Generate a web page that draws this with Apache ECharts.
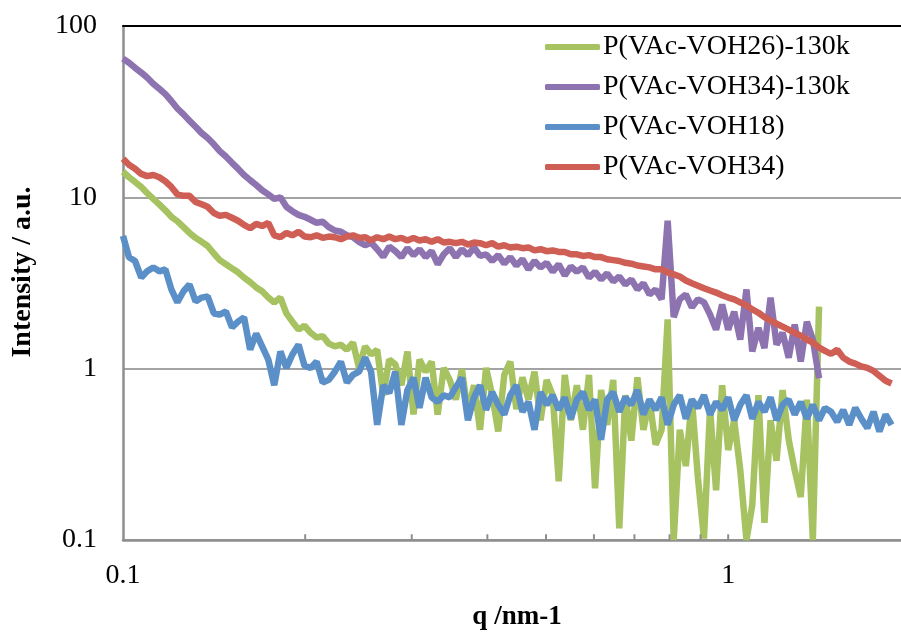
<!DOCTYPE html>
<html>
<head>
<meta charset="utf-8">
<script src="https://cdn.jsdelivr.net/npm/echarts@6/dist/echarts.min.js"></script>
<style>
  html, body { margin: 0; padding: 0; background: #fff; }
  #chart { width: 901px; height: 633px; }
</style>
</head>
<body>
<div id="chart"></div>
<script>
// q grid (nm-1), log spaced
var q = [0.1, 0.1023, 0.1047, 0.1072, 0.1096, 0.1122, 0.1148, 0.1175, 0.1202, 0.1230,
  0.1259, 0.1288, 0.1318, 0.1349, 0.1380, 0.1413, 0.1445, 0.1479, 0.1514, 0.1549,
  0.1585, 0.1622, 0.1660, 0.1698, 0.1738, 0.1778, 0.1820, 0.1862, 0.1905, 0.1950,
  0.1995, 0.2042, 0.2089, 0.2138, 0.2188, 0.2239, 0.2291, 0.2344, 0.2399, 0.2455,
  0.2512, 0.2570, 0.2630, 0.2692, 0.2754, 0.2818, 0.2884, 0.2951, 0.3020, 0.3090,
  0.3162, 0.3236, 0.3311, 0.3388, 0.3467, 0.3548, 0.3631, 0.3715, 0.3802, 0.3890,
  0.3981, 0.4074, 0.4169, 0.4266, 0.4365, 0.4467, 0.4571, 0.4677, 0.4786, 0.4898,
  0.5012, 0.5129, 0.5248, 0.5370, 0.5495, 0.5623, 0.5754, 0.5888, 0.6026, 0.6166,
  0.6310, 0.6457, 0.6607, 0.6761, 0.6918, 0.7079, 0.7244, 0.7413, 0.7586, 0.7762,
  0.7943, 0.8128, 0.8318, 0.8511, 0.8710, 0.8913, 0.9120, 0.9333, 0.9550, 0.9772,
  1.000, 1.023, 1.047, 1.072, 1.096, 1.122, 1.148, 1.175, 1.202, 1.230,
  1.259, 1.288, 1.318, 1.349, 1.380, 1.413, 1.445, 1.479, 1.514, 1.549,
  1.585, 1.622, 1.660, 1.698, 1.738, 1.778, 1.820, 1.862];

var voh26_130k = [14.1, 13.1, 12.3, 11.5, 10.6, 9.8, 9.1, 8.4, 7.7, 7.25,
  6.7, 6.2, 5.8, 5.5, 5.2, 4.7, 4.3, 4.07, 3.85, 3.65,
  3.4, 3.2, 2.98, 2.83, 2.6, 2.43, 2.6, 2.1, 1.88, 1.69,
  1.78, 1.62, 1.52, 1.55, 1.4, 1.35, 1.38, 1.29, 1.42, 1.01,
  1.35, 1.21, 1.29, 0.7, 1.13, 1.06, 0.8, 1.26, 0.54, 1.13,
  0.96, 1.1, 0.54, 1.01, 0.86, 0.66, 0.99, 0.55, 0.8, 0.44,
  1.01, 0.7, 0.43, 0.92, 1.1, 0.58, 0.89, 0.66, 0.96, 0.5,
  0.86, 0.7, 0.22, 0.92, 0.5, 0.8, 0.44, 0.92, 0.2, 0.75,
  0.47, 0.86, 0.117, 0.7, 0.38, 0.89, 0.44, 0.66, 0.36, 0.44,
  1.94, 0.1, 0.44, 0.27, 0.66, 0.23, 0.102, 0.58, 0.195, 0.8,
  0.335, 0.5, 0.256, 0.1, 0.16, 0.7, 0.126, 0.5, 0.29, 0.75,
  0.384, 0.256, 0.178, 0.66, 0.1, 2.3];

var voh34_130k = [64.5, 61, 57, 53.5, 50, 46, 43, 40, 36.5, 33,
  30.5, 28, 25.8, 23.7, 22.2, 20.4, 18.6, 17.3, 15.9, 14.7,
  13.5, 12.6, 11.8, 11.0, 10.4, 9.8, 10.0, 8.8, 8.3, 7.9,
  7.7, 7.4, 7.1, 7.2, 6.7, 6.4, 6.3, 6.0, 5.85, 5.5,
  5.25, 5.45, 4.98, 4.5, 5.15, 4.85, 4.48, 5.05, 4.6, 4.98,
  4.48, 4.85, 4.07, 4.65, 5.05, 4.48, 4.98, 4.6, 5.1, 4.55,
  4.65, 4.25, 4.6, 4.1, 4.48, 4.0, 4.35, 3.8, 4.25, 3.9,
  4.15, 3.68, 4.07, 3.5, 3.95, 3.68, 3.9, 3.4, 3.68, 3.32,
  3.6, 3.23, 3.45, 3.1, 3.32, 2.9, 3.15, 2.71, 2.9, 2.54,
  7.3, 2.0, 2.54, 2.71, 2.28, 2.54, 2.44, 2.07, 1.69, 2.37,
  1.69, 2.15, 1.48, 2.9, 1.26, 1.73, 1.32, 2.6, 1.38, 1.62,
  1.16, 1.81, 1.1, 1.88, 1.48, 0.88];

var voh18 = [5.95, 4.47, 4.25, 3.4, 3.7, 3.9, 3.7, 3.8, 2.9, 2.44,
  2.83, 3.1, 2.47, 2.6, 2.64, 2.1, 2.07, 2.16, 1.74, 1.88,
  1.99, 1.29, 1.6, 1.35, 1.13, 0.8, 1.26, 1.01, 1.21, 1.38,
  1.04, 1.01, 1.1, 0.83, 0.86, 0.96, 1.1, 0.83, 0.92, 0.96,
  1.16, 0.96, 0.47, 0.8, 0.72, 0.96, 0.47, 0.75, 0.885, 0.59,
  0.885, 0.68, 0.64, 0.7, 0.68, 0.78, 0.885, 0.5, 0.68, 0.8,
  0.575, 0.73, 0.615, 0.54, 0.7, 0.8, 0.56, 0.64, 0.44, 0.73,
  0.615, 0.7, 0.575, 0.68, 0.51, 0.66, 0.73, 0.575, 0.66, 0.384,
  0.66, 0.73, 0.56, 0.68, 0.615, 0.75, 0.54, 0.66, 0.575, 0.68,
  0.47, 0.615, 0.7, 0.51, 0.66, 0.59, 0.7, 0.54, 0.64, 0.575,
  0.68, 0.5, 0.615, 0.7, 0.51, 0.64, 0.56, 0.68, 0.5, 0.615,
  0.66, 0.54, 0.64, 0.51, 0.615, 0.5, 0.59, 0.56, 0.49, 0.575,
  0.47, 0.59, 0.51, 0.45, 0.56, 0.43, 0.54, 0.47];

var voh34 = [16.8, 15.5, 14.7, 13.7, 13.3, 13.5, 13.1, 12.4, 11.5, 10.4,
  10.2, 10.2, 9.4, 9.1, 8.8, 8.1, 7.8, 7.9, 7.6, 7.3,
  6.9, 6.6, 7.0, 6.8, 7.1, 6.0, 5.85, 6.2, 6.0, 6.3,
  5.9, 5.85, 6.0, 5.8, 5.9, 5.85, 5.7, 5.9, 6.0, 5.8,
  5.85, 5.6, 5.85, 5.7, 5.9, 5.7, 5.8, 5.6, 5.8, 5.6,
  5.7, 5.5, 5.7, 5.45, 5.5, 5.4, 5.5, 5.3, 5.45, 5.4,
  5.25, 5.4, 5.15, 5.25, 5.1, 5.15, 5.05, 5.1, 4.9, 4.98,
  4.85, 4.9, 4.8, 4.8, 4.65, 4.65, 4.55, 4.6, 4.48, 4.48,
  4.35, 4.3, 4.25, 4.15, 4.1, 4.0, 3.95, 3.9, 3.8, 3.8,
  3.65, 3.55, 3.45, 3.27, 3.15, 3.05, 2.95, 2.86, 2.78, 2.68,
  2.6, 2.54, 2.44, 2.34, 2.22, 2.12, 2.0, 1.91, 1.83, 1.76,
  1.69, 1.62, 1.56, 1.48, 1.42, 1.33, 1.27, 1.22, 1.29, 1.16,
  1.1, 1.07, 1.03, 1.01, 0.97, 0.91, 0.85, 0.82];

var names = ['P(VAc-VOH26)-130k', 'P(VAc-VOH34)-130k', 'P(VAc-VOH18)', 'P(VAc-VOH34)'];
var colors = ['#a6c261', '#8d74b0', '#5a8fc8', '#cf5e55'];
var tickQ = [0.2, 0.3, 0.4, 0.5, 0.6, 0.7, 0.8, 0.9, 1];

var font = "'Liberation Serif', 'Times New Roman', serif";

function pairs(ys) {
  return ys.map(function (v, i) { return [q[i], v]; });
}

function lineSeries(i, ys) {
  return {
    name: names[i],
    type: 'line',
    data: pairs(ys),
    showSymbol: false,
    symbol: 'none',
    itemStyle: { color: colors[i] },
    lineStyle: { width: 6.5, color: colors[i] },
    animation: false
  };
}

var series = [
  lineSeries(0, voh26_130k),
  lineSeries(1, voh34_130k),
  lineSeries(2, voh18),
  lineSeries(3, voh34)
];

// short inside ticks on the q axis, one tiny series per tick
tickQ.forEach(function (v) {
  series.push({
    type: 'line',
    data: [[v, 0.1], [v, 0.108]],
    showSymbol: false,
    symbol: 'none',
    silent: true,
    z: 5,
    lineStyle: { width: 2, color: '#8e8e8e' },
    animation: false
  });
});

var chart = echarts.init(document.getElementById('chart'));
chart.setOption({
  animation: false,
  backgroundColor: '#fff',
  grid: { left: 123, right: 0, top: 26, bottom: 93, containLabel: false, outerBoundsMode: 'none' },
  legend: {
    data: names,
    orient: 'vertical',
    left: 540,
    top: 28,
    icon: 'roundRect',
    itemWidth: 55,
    itemHeight: 6,
    itemGap: 12,
    textStyle: { fontFamily: font, fontSize: 28, color: '#000', lineHeight: 28, padding: [0, 0, 0, -2] }
  },
  xAxis: [{
    type: 'log',
    logBase: 10,
    min: 0.1,
    max: 1.93,
    name: 'q /nm-1',
    nameLocation: 'middle',
    nameGap: 64,
    nameTextStyle: { fontFamily: font, fontSize: 27, fontWeight: 'bold', color: '#000', padding: [0, 0, 0, 10] },
    axisLine: { show: true, lineStyle: { color: '#8e8e8e', width: 2.5 } },
    axisTick: { show: false },
    axisLabel: { fontFamily: font, fontSize: 28, color: '#000', margin: 22, showMaxLabel: false },
    splitLine: { show: false }
  }, {
    type: 'log',
    logBase: 10,
    min: 0.1,
    max: 1.93,
    position: 'top',
    axisLine: { show: true, lineStyle: { color: '#000', width: 2 } },
    axisTick: { show: false },
    axisLabel: { show: false },
    splitLine: { show: false }
  }],
  yAxis: {
    type: 'log',
    logBase: 10,
    min: 0.1,
    max: 100,
    name: 'Intensity / a.u.',
    nameLocation: 'middle',
    nameGap: 86,
    nameTextStyle: { fontFamily: font, fontSize: 28, fontWeight: 'bold', color: '#000', padding: [0, 0, 0, 22] },
    axisLine: { show: true, lineStyle: { color: '#8e8e8e', width: 2.5 } },
    axisTick: { show: false },
    axisLabel: { fontFamily: font, fontSize: 28, color: '#000', margin: 26 },
    splitLine: { show: true, lineStyle: { color: '#a3a3a3', width: 2 } }
  },
  series: series
});
</script>
</body>
</html>
